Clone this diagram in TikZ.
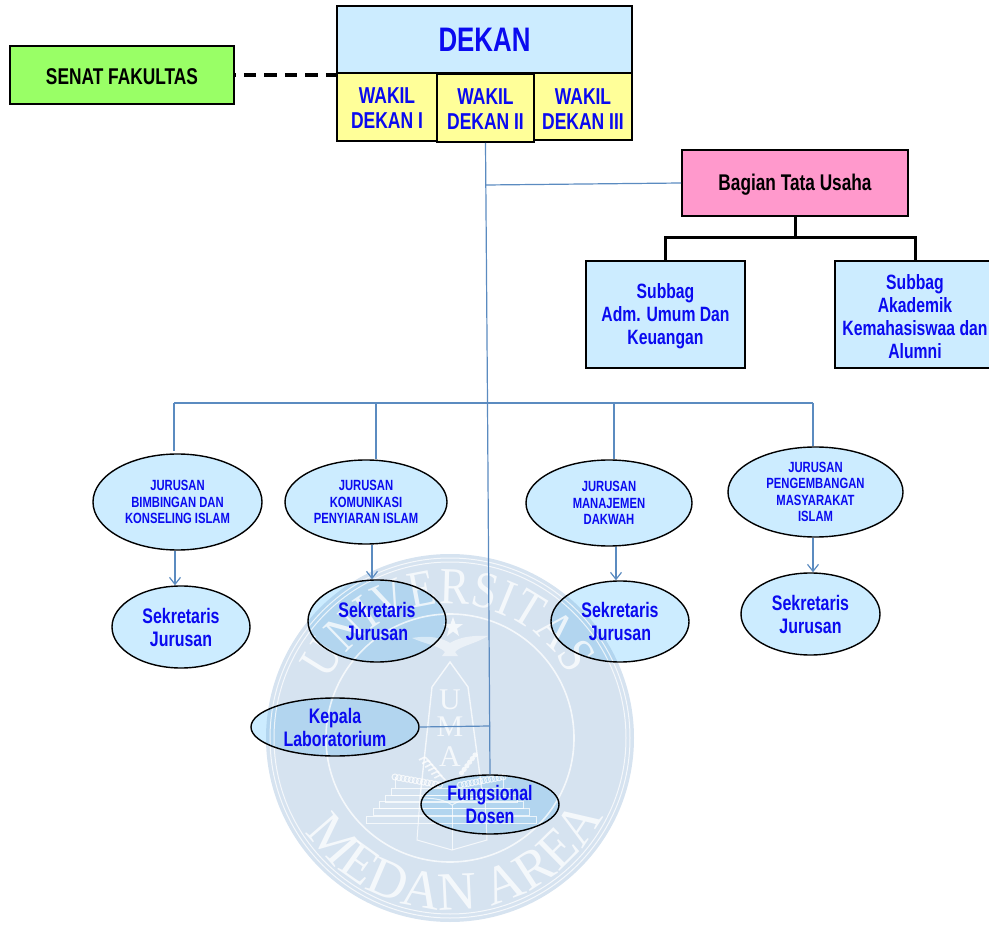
\documentclass[tikz,border=0pt]{standalone}
\usepackage{fontspec}
\usetikzlibrary{shapes.geometric,arrows.meta,decorations.text,calc}
\newfontfamily\nf[FakeStretch=0.76]{Liberation Sans}
\newfontfamily\wmfont{Liberation Serif}
\newfontfamily\wmfontc[FakeStretch=0.86]{Liberation Serif}
\definecolor{cblue}{HTML}{CCECFF}
\definecolor{cyel}{HTML}{FFFF99}
\definecolor{cgrn}{HTML}{99FF66}
\definecolor{cpink}{HTML}{FF99CC}
\definecolor{ctxt}{HTML}{0A0AF0}
\definecolor{cline}{HTML}{5B8BC0}
\definecolor{cwm}{rgb}{0.47,0.63,0.80}
\newcommand{\fs}[2]{\nf\bfseries\fontsize{#1}{#2}\selectfont}
\newcommand{\dn}[1]{\rule{0pt}{\dimexpr 0.73em+#1pt\relax}}
\tikzset{
  boxbase/.style={draw=black,line width=1.6pt,inner sep=0pt,align=center,text=ctxt},
  ellbase/.style={shape=ellipse,draw=black,line width=1.4pt,inner sep=0pt,align=center,text=ctxt},
  juru/.style={ellbase,fill=cblue,font=\fs{14.8}{16.5}},
  sekr/.style={ellbase,font=\fs{21}{23}},
  under/.style={shape=ellipse,fill=cblue,inner sep=0pt},
  wakil/.style={boxbase,fill=cyel,font=\fs{23}{25}},
  sub/.style={boxbase,fill=cblue,line width=1.2pt,font=\fs{20.7}{23}},
  blueline/.style={draw=cline,line width=1.2pt},
  bluearrow/.style={blueline,-{Straight Barb[length=7pt,width=11pt]}},
  blackline/.style={draw=black,line width=3pt},
  wmline/.style={draw=white,line width=1pt},
}
\begin{document}
\begin{tikzpicture}[x=1pt,y=-1pt]
\useasboundingbox (0,0) rectangle (989,925);
% ellipse fills that lie under the watermark
\node[under,minimum width=138pt,minimum height=82pt] (s2u) at (377,621) {};
\node[under,minimum width=138pt,minimum height=81pt] (s3u) at (620,621.5) {};
\node[under,minimum width=168pt,minimum height=58pt] (klu) at (335,727) {};
\node[under,minimum width=138pt,minimum height=59pt] (fdu) at (490,804.5) {};
% watermark
\begin{scope}[shift={(450,738)},x=1pt,y=1pt]
\fill[cwm,opacity=.3] (0,0) circle (184);
\begin{scope}[opacity=.75]
\draw[wmline] (0,0) circle (180);
\draw[wmline] (0,0) circle (176);
\draw[wmline,line width=1.6pt] (0,0) circle (124);
\path[decorate,decoration={text along path,text align=fit to path,
  text={|\wmfontc\fontsize{52}{52}\selectfont\color{white}|UNIVERSITAS}}]
  (155:134) arc (155:28:134);
\path[decorate,decoration={text along path,text align=fit to path,
  text={|\wmfont\fontsize{54}{54}\selectfont\color{white}|MEDAN AREA}}]
  (-147:172) arc (-147:-27:172);
% obelisk
\draw[wmline,line width=1.4pt] (-30,-60) -- (-18,51) -- (0,76) -- (18,51) -- (33,-60);
\node[text=white,font=\wmfont\fontsize{30}{30}\selectfont] (wu) at (0,38) {U};
\node[text=white,font=\wmfont\fontsize{30}{30}\selectfont] (wm) at (0,11) {M};
\node[text=white,font=\wmfont\fontsize{30}{30}\selectfont] (wa) at (0,-19) {A};
% star and bird
\fill[white] (3,121) -- (5.5,114) -- (13,114) -- (7,109.5) -- (9,102) -- (3,106.5) -- (-3,102) -- (-1,109.5) -- (-7,114) -- (.5,114) -- cycle;
\fill[white,opacity=.5] (-38,100) .. controls (-20,103) and (-8,100) .. (0,95) .. controls (8,100) and (20,103) .. (38,102) .. controls (25,94) and (10,92) .. (5,86) -- (8,82) -- (-8,82) -- (-5,86) .. controls (-10,92) and (-25,94) .. cycle;
% steps
\foreach \wid/\yy in {85/-85,78/-77,72/-70,66/-64,60/-57}
  \draw[wmline] (-\wid+1,\yy) rectangle (\wid+1,\yy+7);
\draw[wmline] (-55,-39) -- (-55,-50);
\draw[wmline] (53,-39) -- (53,-50);
% garlands
\foreach \a in {0,0.09,...,1.01}{
  \draw[wmline] ($(-55,-39)!\a!(-10,-47)$) circle (3);
  \draw[wmline] ($(53,-39)!\a!(10,-47)$) circle (3);
}
\foreach \a in {0,0.18,...,1.01}{
  \draw[wmline,line width=1.6pt] ($(-25,-19)!\a!(-8,-39)$) -- ++(-6,-3);
  \draw[wmline,line width=1.6pt] ($(-25,-19)!\a!(-8,-39)$) -- ++(5,-5);
  \fill[white] ($(25,-17)!\a!(10,-37)$) circle (2.6);
}
% book
\draw[wmline] (-30,-60) .. controls (-15,-60) and (-5,-62) .. (2,-67) .. controls (10,-62) and (20,-60) .. (35,-60);
\draw[wmline] (-30,-60) -- (-33,-102) -- (2,-112) -- (37,-102) -- (35,-60);
\draw[wmline] (2,-67) -- (2,-112);
\end{scope}
\end{scope}
% boxes
\node[boxbase,fill=cblue,minimum width=295pt,minimum height=67pt,font=\fs{34}{40}] (dekan) at (484.5,39.5) {DEKAN};
\node[wakil,minimum width=100pt,minimum height=68pt] (w1) at (387,107) {\dn{2}WAKIL\\DEKAN I};
\node[wakil,minimum width=98pt,minimum height=67pt] (w3) at (583,106.5) {\dn{4}WAKIL\\DEKAN III};
\node[wakil,minimum width=97pt,minimum height=68pt] (w2) at (485.5,108) {\dn{2}WAKIL\\DEKAN II};
\node[boxbase,fill=cgrn,text=black,minimum width=224pt,minimum height=58pt,font=\fs{22.8}{24}] (senat) at (122,75) {\dn{2}SENAT FAKULTAS};
\node[boxbase,fill=cpink,text=black,minimum width=226pt,minimum height=66pt,font=\fs{22.7}{24}] (tu) at (795,183) {\dn{4}Bagian Tata Usaha};
\node[sub,minimum width=159pt,minimum height=107pt] (sub1) at (665.5,314.5) {\dn{4}Subbag\\Adm. Umum Dan\\Keuangan};
\node[sub,minimum width=160pt,minimum height=107pt] (sub2) at (915,314.5) {\dn{4}Subbag\\Akademik\\Kemahasiswaa dan\\Alumni};
% ellipses
\node[juru,minimum width=169pt,minimum height=96pt] (j1) at (177.5,502) {JURUSAN\\BIMBINGAN DAN\\KONSELING ISLAM};
\node[juru,minimum width=162pt,minimum height=84pt] (j2) at (366,502) {JURUSAN\\KOMUNIKASI\\PENYIARAN ISLAM};
\node[juru,minimum width=166pt,minimum height=86pt] (j3) at (609,503) {JURUSAN\\MANAJEMEN\\DAKWAH};
\node[juru,minimum width=175pt,minimum height=90pt] (j4) at (815.5,492) {JURUSAN\\PENGEMBANGAN\\MASYARAKAT\\ISLAM};
\node[sekr,fill=cblue,minimum width=138pt,minimum height=82pt] (s1) at (181,627) {Sekretaris\\Jurusan};
\node[sekr,minimum width=138pt,minimum height=82pt] (s2) at (377,621) {Sekretaris\\Jurusan};
\node[sekr,minimum width=138pt,minimum height=81pt] (s3) at (620,621.5) {Sekretaris\\Jurusan};
\node[sekr,fill=cblue,minimum width=139pt,minimum height=82pt] (s4) at (810.5,614) {Sekretaris\\Jurusan};
\node[sekr,minimum width=168pt,minimum height=58pt] (kl) at (335,727) {Kepala\\Laboratorium};
\node[sekr,minimum width=138pt,minimum height=59pt] (fd) at (490,804.5) {Fungsional\\Dosen};
% connectors
\coordinate (hub) at (487.5,403);
\coordinate (t1) at (174,403);
\coordinate (t2) at (376,403);
\coordinate (t3) at (614,403);
\coordinate (t4) at (813,403);
\coordinate (tuj) at (486,185);
\coordinate (klj) at (490,726);
\coordinate (bar1) at (665,238);
\coordinate (bar2) at (915,238);
\coordinate (a1) at (175,0);
\coordinate (a2) at (372,0);
\coordinate (a3) at (616,0);
\coordinate (a4) at (813,0);
\draw[black,line width=3.2pt,dash pattern=on 12.5pt off 8pt,dash phase=11.5pt] (senat.east) -- (senat.east -| dekan.west);
\draw[blueline] (w2.south) -- (hub) -- (fd.north);
\draw[blueline] (tuj) -- (tu.west);
\draw[blueline] (t1) -- (t4);
\draw[blueline] (t1) -- ++(0,48);
\draw[blueline] (t2) -- (t2 |- j2.north);
\draw[blueline] (t3) -- (t3 |- j3.north);
\draw[blueline] (t4) -- (t4 |- j4.north);
\draw[blueline] (kl.east) -- (klj);
\draw[bluearrow] (a1 |- j1.south) -- (a1 |- s1.north);
\draw[bluearrow] (a2 |- j2.south) -- (a2 |- s2.north);
\draw[bluearrow] (a3 |- j3.south) -- (a3 |- s3.north);
\draw[bluearrow] (a4 |- j4.south) -- (a4 |- s4.north);
\draw[blackline] (tu.south) -- (tu.south |- bar1);
\draw[blackline,line cap=rect] (bar1) -- (bar2);
\draw[blackline] (bar1) -- (sub1.north -| bar1);
\draw[blackline] (bar2) -- (sub2.north -| bar2);
\end{tikzpicture}
\end{document}
